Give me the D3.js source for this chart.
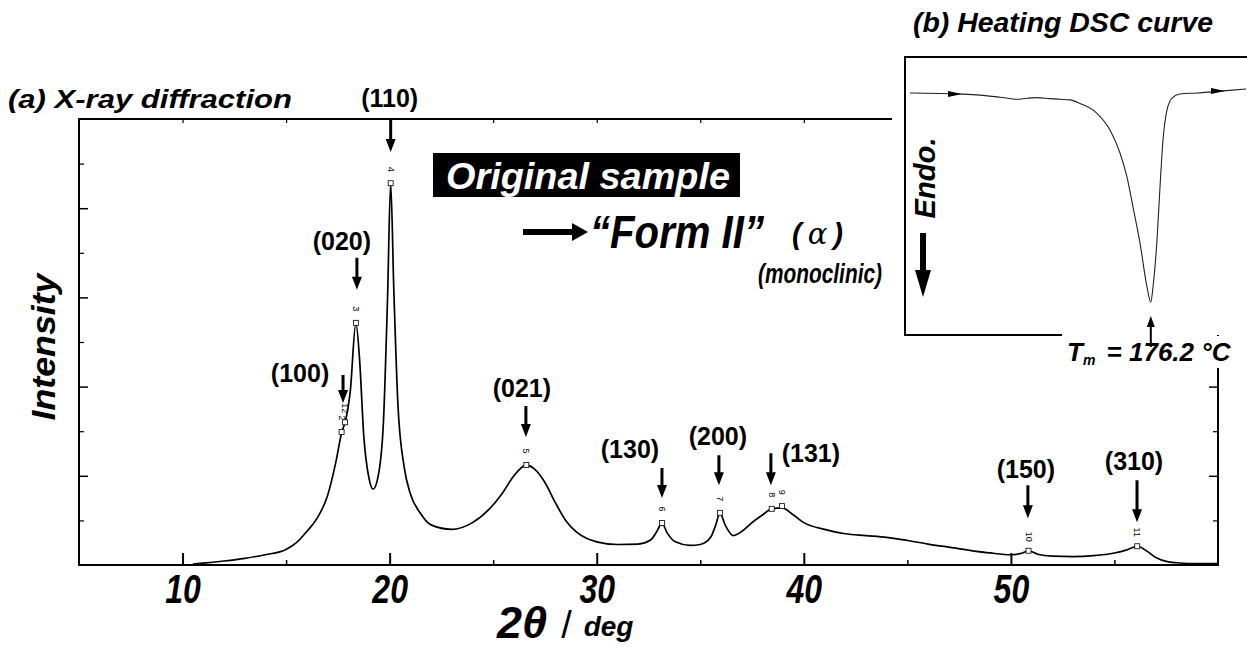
<!DOCTYPE html>
<html>
<head>
<meta charset="utf-8">
<script src="https://cdn.jsdelivr.net/npm/d3@7"></script>
<style>
  body { margin: 0; background: #fff; }
  svg { display: block; font-family: "Liberation Sans", Arial, sans-serif; }
</style>
</head>
<body>
<div id="chart"></div>
<script>
// XRD pattern (a)
const twoTheta = [10.5, 11, 12, 13, 14, 15, 15.5, 16, 16.5, 17, 17.4, 17.7, 17.85, 18.1, 18.37, 18.55, 18.75, 19.0, 19.2, 19.45,
  19.7, 19.9, 20.05, 20.2, 20.4, 20.7, 21, 21.5, 22, 23, 24, 25, 25.5, 26, 26.6, 27, 27.5, 28, 28.5, 29,
  29.5, 30, 31, 32, 32.6, 32.9, 33.15, 33.4, 33.8, 34.5, 35, 35.5, 35.75, 35.95, 36.2, 36.6, 37, 37.5, 38, 38.45,
  38.95, 39.5, 40, 41, 42, 43, 44, 45, 46, 47, 48, 49, 50, 50.5, 50.85, 51.3, 52, 53, 54, 55,
  55.6, 56.1, 56.6, 57, 57.5, 58, 59, 60];
const intensity = [0.02, 0.04, 0.09, 0.15, 0.23, 0.35, 0.5, 0.75, 1.05, 1.55, 2.3, 3.0, 3.2, 3.9, 5.43, 4.6, 2.9, 1.95, 1.7, 2.0,
  3.2, 6.0, 8.56, 6.2, 3.6, 2.2, 1.6, 1.15, 0.9, 0.8, 0.95, 1.35, 1.65, 2.0, 2.24, 2.15, 1.85, 1.4, 1.0, 0.75,
  0.6, 0.52, 0.46, 0.47, 0.56, 0.75, 0.94, 0.72, 0.52, 0.44, 0.46, 0.62, 0.9, 1.17, 0.9, 0.66, 0.75, 0.95, 1.12, 1.26,
  1.28, 1.12, 0.95, 0.8, 0.7, 0.66, 0.62, 0.55, 0.47, 0.4, 0.33, 0.27, 0.23, 0.26, 0.32, 0.24, 0.2, 0.19, 0.21, 0.27,
  0.34, 0.42, 0.3, 0.17, 0.08, 0.05, 0.03, 0.03];

// Miller index annotations
const hklLabels = ["(100)", "(020)", "(110)", "(021)", "(130)", "(200)", "(131)", "(150)", "(310)"];
const hklTheta = [17.75, 18.42, 20.05, 26.58, 33.15, 35.9, 38.41, 50.82, 56.09];
const hklTip = [3.63, 6.17, 9.26, 2.87, 1.5, 1.79, 1.79, 1.05, 0.96];

// numbered peak picks
const pickNo = ["2", "12", "3", "4", "5", "6", "7", "8", "9", "10", "11"];
const pickTheta = [17.68, 17.85, 18.37, 20.05, 26.6, 33.15, 35.95, 38.45, 38.95, 50.85, 56.1];
const pickI = [2.98, 3.2, 5.43, 8.56, 2.24, 0.94, 1.17, 1.26, 1.32, 0.32, 0.42];

// axis ticks
const xMajor = [10, 20, 30, 40, 50];
const xMinor = [15, 25, 35, 45, 55];
const yMajor = [2, 4, 6, 8];
const yMinor = [1, 3, 5, 7, 9];

// DSC heating curve (b)
const dscT = [116, 128.5, 133.5, 138.5, 142.75, 145.25, 147.75, 151, 153.5, 156, 158.5, 162.75, 166, 168.5, 170.25,
  171.75, 173.5, 175.25, 176.2, 176.75, 177.75, 178.5, 179.25, 180.25, 181.5, 183.5, 187.75, 194.25, 200];
const dscFlow = [0, -0.05, -0.1, -0.2, -0.3, -0.25, -0.22, -0.27, -0.3, -0.33, -0.5, -0.97, -1.77, -2.87, -4.02,
  -5.45, -7.18, -9.28, -10, -9.28, -7.03, -4.5, -2.25, -0.81, -0.24, -0.05, 0, 0.1, 0.19];
const dscArrowIdx = [1, 27];
const meltT = 176.2;

// label placement (px offsets)
const hklLen = [28, 32, 32, 31, 30, 30, 32, 33, 42];
const hklDx = [-43, -15, -1, -4, -32, -1, 40, -2, -3];
const hklDy = [-21, -40, -45, -40, -40, -40, -23, -40, -52];

const bi = "bold";
const svg = d3.select("#chart").append("svg").attr("width", 1247).attr("height", 649);

const x = d3.scaleLinear().domain([5, 60]).range([79, 1218]);
const y = d3.scaleLinear().domain([0, 10]).range([565, 119]);

function vArrow(g, ax, yTail, yTip, sw, hw, hl) {
  const s = yTip > yTail ? 1 : -1;
  const yb = yTip - s * hl;
  g.append("path")
    .attr("d", `M${ax - sw / 2},${yTail}L${ax + sw / 2},${yTail}L${ax + sw / 2},${yb}L${ax + hw / 2},${yb}L${ax},${yTip}L${ax - hw / 2},${yb}L${ax - sw / 2},${yb}Z`)
    .attr("fill", "#000");
}

// ticks
const axes = svg.append("g");
function addAxis(axis, tr, sw) {
  return axes.append("g")
    .attr("transform", tr)
    .call(axis)
    .call((g) => g.select(".domain").remove())
    .call((g) => g.selectAll("line").attr("stroke", "#000").attr("stroke-width", sw));
}
addAxis(d3.axisBottom(x).tickValues(xMinor).tickSize(-5).tickFormat(""), `translate(0,${y(0)})`, 1.5);
const bottom = addAxis(d3.axisBottom(x).tickValues(xMajor).tickSize(-12).tickFormat(d3.format("d")), `translate(0,${y(0)})`, 2);
bottom.attr("font-size", null).attr("font-family", null);
bottom.selectAll("text")
  .attr("y", 38).attr("dy", null)
  .attr("transform", "scale(0.8,1)")
  .attr("font-size", 40).attr("font-weight", bi).attr("font-style", "italic").attr("fill", "#000");
addAxis(d3.axisTop(x).tickValues([10, 15, 25, 30, 35, 40]).tickSize(-4).tickFormat(""), `translate(0,${y(10)})`, 1.2);
addAxis(d3.axisLeft(y).tickValues(yMajor).tickSize(-9).tickFormat(""), `translate(${x(5)},0)`, 1.5);
addAxis(d3.axisLeft(y).tickValues(yMinor).tickSize(-5).tickFormat(""), `translate(${x(5)},0)`, 1.2);
addAxis(d3.axisRight(y).tickValues(yMajor).tickSize(-9).tickFormat(""), `translate(${x(60)},0)`, 1.5);
addAxis(d3.axisRight(y).tickValues(yMinor).tickSize(-5).tickFormat(""), `translate(${x(60)},0)`, 1.2);

// frame
svg.append("path")
  .attr("d", `M${x(60)},${y(10)}V${y(0)}H${x(5)}V${y(10)}H892`)
  .attr("fill", "none").attr("stroke", "#000").attr("stroke-width", 2);

// XRD line
const pts = d3.zip(twoTheta, intensity);
svg.append("path")
  .datum(pts)
  .attr("d", d3.line().x((d) => x(d[0])).y((d) => y(d[1])).curve(d3.curveMonotoneX))
  .attr("fill", "none").attr("stroke", "#000").attr("stroke-width", 1.7).attr("stroke-linejoin", "round");

// peak picks
const picks = svg.append("g");
pickNo.forEach((n, i) => {
  const px = x(pickTheta[i]), py = y(pickI[i]);
  picks.append("rect").attr("x", px - 2.5).attr("y", py - 2.5).attr("width", 5).attr("height", 5)
    .attr("fill", "#fff").attr("stroke", "#000").attr("stroke-width", 0.8);
  picks.append("text")
    .attr("transform", `translate(${px - 3},${py - 14}) rotate(90)`)
    .attr("text-anchor", "middle").attr("font-size", 9).text(n);
});

// hkl labels + arrows
const ann = svg.append("g");
hklLabels.forEach((lab, i) => {
  const ax = x(hklTheta[i]), tip = y(hklTip[i]);
  vArrow(ann, ax, tip - hklLen[i], tip, 3, 10, 13);
  ann.append("text")
    .attr("x", ax + hklDx[i]).attr("y", tip + hklDy[i])
    .attr("text-anchor", "middle").attr("font-size", 25).attr("font-weight", bi)
    .text(lab);
});

// titles
svg.append("text").attr("x", 8).attr("y", 108)
  .attr("font-size", 25).attr("font-weight", bi).attr("font-style", "italic")
  .attr("textLength", 284).attr("lengthAdjust", "spacingAndGlyphs")
  .text("(a) X-ray diffraction");

svg.append("text")
  .attr("transform", "translate(55,347) rotate(-90)")
  .attr("text-anchor", "middle").attr("font-size", 33).attr("font-weight", bi).attr("font-style", "italic")
  .attr("textLength", 147).attr("lengthAdjust", "spacingAndGlyphs")
  .text("Intensity");

const xl = svg.append("text").attr("x", 497).attr("y", 638)
  .attr("font-weight", bi).attr("font-style", "italic");
xl.append("tspan").attr("font-size", 45).text("2θ");
xl.append("tspan").attr("font-size", 38).attr("font-weight", "normal").attr("font-style", "normal").attr("dx", 14).text("/");
xl.append("tspan").attr("font-size", 28).attr("dx", 12).attr("dy", -2).text("deg");

// "Original sample" box
svg.append("rect").attr("x", 433).attr("y", 153).attr("width", 307).attr("height", 44).attr("fill", "#000");
svg.append("text").attr("x", 446).attr("y", 189)
  .attr("fill", "#fff").attr("font-size", 36).attr("font-weight", bi).attr("font-style", "italic")
  .attr("textLength", 284).attr("lengthAdjust", "spacingAndGlyphs")
  .text("Original sample");

svg.append("path")
  .attr("d", "M523,229H572V223L588,232L572,241V235H523Z")
  .attr("fill", "#000");
svg.append("text").attr("x", 590).attr("y", 248)
  .attr("font-size", 47).attr("font-weight", bi).attr("font-style", "italic")
  .attr("textLength", 174).attr("lengthAdjust", "spacingAndGlyphs")
  .text("“Form II”");
const alpha = svg.append("text").attr("x", 792).attr("y", 244)
  .attr("font-size", 29).attr("font-weight", bi).attr("font-style", "italic");
alpha.append("tspan").text("(");
alpha.append("tspan").attr("dx", 6).attr("font-family", "DejaVu Serif").attr("font-weight", "normal").text("α");
alpha.append("tspan").attr("dx", 6).text(")");
svg.append("text").attr("x", 758).attr("y", 283)
  .attr("font-size", 27).attr("font-weight", bi).attr("font-style", "italic")
  .attr("textLength", 124).attr("lengthAdjust", "spacingAndGlyphs")
  .text("(monoclinic)");

// ---- inset (b) DSC ----
const tx = d3.scaleLinear().domain([115, 200]).range([906, 1246]);
const hy = d3.scaleLinear().domain([0, -10]).range([93, 302]);

const inset = svg.append("g");
inset.append("rect").attr("x", 893).attr("y", 45).attr("width", 360).attr("height", 290).attr("fill", "#fff");
inset.append("rect").attr("x", 1060).attr("y", 336).attr("width", 190).attr("height", 32).attr("fill", "#fff");
inset.append("path")
  .attr("d", "M1250,57H905V335H1062")
  .attr("fill", "none").attr("stroke", "#000").attr("stroke-width", 2);

inset.append("path")
  .datum(d3.zip(dscT, dscFlow))
  .attr("d", d3.line().x((d) => tx(d[0])).y((d) => hy(d[1])).curve(d3.curveMonotoneX))
  .attr("fill", "none").attr("stroke", "#222").attr("stroke-width", 1.1);

dscArrowIdx.forEach((k) => {
  const ax = tx(dscT[k]), ay = hy(dscFlow[k]);
  inset.append("path")
    .attr("d", `M${ax - 12},${ay - 3}L${ax + 2},${ay}L${ax - 12},${ay + 3}Z`)
    .attr("fill", "#000");
});

inset.append("text").attr("x", 913).attr("y", 32)
  .attr("font-size", 27).attr("font-weight", bi).attr("font-style", "italic")
  .attr("textLength", 300).attr("lengthAdjust", "spacingAndGlyphs")
  .text("(b) Heating DSC curve");

inset.append("text")
  .attr("transform", "translate(935,178) rotate(-90)")
  .attr("text-anchor", "middle").attr("font-size", 29).attr("font-weight", bi).attr("font-style", "italic")
  .attr("textLength", 81).attr("lengthAdjust", "spacingAndGlyphs")
  .text("Endo.");
vArrow(inset, 923, 233, 297, 6, 16, 27);

vArrow(inset, tx(meltT), 347, 316, 2, 8, 11);
const tm = inset.append("text").attr("x", 1067).attr("y", 361)
  .attr("font-size", 26).attr("font-weight", bi).attr("font-style", "italic");
tm.append("tspan").text("T");
tm.append("tspan").attr("font-size", 14).attr("dy", 4).text("m");
tm.append("tspan").attr("dy", -4).attr("dx", 4).text(` =  ${meltT} °C`);
</script>
</body>
</html>
